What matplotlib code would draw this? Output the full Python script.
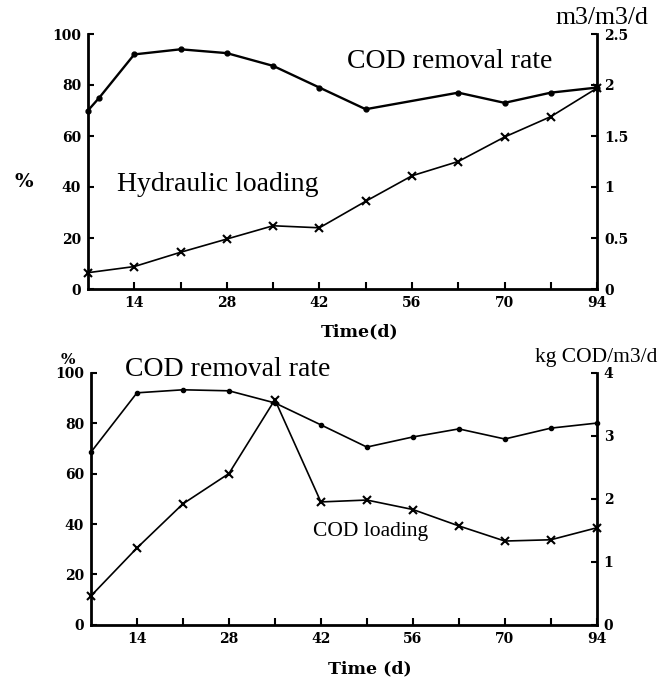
import matplotlib.pyplot as plt

# ---------------------------------------------------------------------------
# Data
# ---------------------------------------------------------------------------
tick_days = [14, 21, 28, 35, 42, 49, 56, 63, 70, 77, 84]
tick_labels = ["14", "", "28", "", "42", "", "56", "", "70", "", "94"]

# top panel: COD removal rate (%) and hydraulic loading (m3/m3/d)
top_cod_days = [7, 8.7, 14, 21, 28, 35, 42, 49, 63, 70, 77, 84]
top_cod_rate = [70, 75, 92, 94, 92.5, 87.5, 79, 70.5, 77, 73, 77, 79]

hyd_days = [7, 14, 21, 28, 35, 42, 49, 56, 63, 70, 77, 84]
hyd_loading = [0.16, 0.22, 0.36, 0.49, 0.62, 0.60, 0.86, 1.11, 1.25, 1.49, 1.69, 1.97]

# bottom panel: COD removal rate (%) and COD loading (kg COD/m3/d)
bot_days = [7, 14, 21, 28, 35, 42, 49, 56, 63, 70, 77, 84]
bot_cod_rate = [68.5, 92, 93.2, 92.8, 88, 79.3, 70.5, 74.5, 77.7, 73.7, 78, 80]
cod_loading = [0.46, 1.22, 1.92, 2.40, 3.57, 1.95, 1.98, 1.83, 1.57, 1.33, 1.35, 1.54]

SERIF = "Liberation Serif"
TICKFONT = "DejaVu Serif"


def style_axes(ax, ax2):
    for a in (ax, ax2):
        a.spines["top"].set_visible(False)
        for s in ("left", "bottom", "right"):
            a.spines[s].set_linewidth(2)
    ax.spines["right"].set_visible(False)
    ax2.spines["left"].set_visible(False)
    ax2.spines["bottom"].set_visible(False)
    ax.set_xlim(7, 84)
    ax.set_xticks(tick_days)
    ax.set_xticklabels(tick_labels)
    ax.tick_params(axis="x", direction="in", length=5, width=1.5, pad=5)
    ax.tick_params(axis="y", direction="in", length=4, width=1.5, pad=5)
    ax2.tick_params(axis="y", direction="in", length=4, width=1.5, pad=5)
    for lab in ax.get_xticklabels() + ax.get_yticklabels() + ax2.get_yticklabels():
        lab.set_fontfamily(TICKFONT)
        lab.set_fontweight("bold")
        lab.set_fontsize(10)


fig = plt.figure(figsize=(6.69, 6.80), dpi=100)

# ---------------------------------------------------------------------------
# Top panel
# ---------------------------------------------------------------------------
ax = fig.add_axes([0.1315, 0.575, 0.761, 0.375])
ax2 = ax.twinx()

ax.plot(top_cod_days, top_cod_rate, color="black", lw=1.7,
        marker="o", ms=3.5, clip_on=False)
ax2.plot(hyd_days, hyd_loading, color="black", lw=1.2,
         marker="x", ms=6, mew=1.5, clip_on=False)

ax.set_ylim(0, 100)
ax.set_yticks([0, 20, 40, 60, 80, 100])
ax2.set_ylim(0, 2.5)
ax2.set_yticks([0, 0.5, 1, 1.5, 2, 2.5])
ax2.set_yticklabels(["0", "0.5", "1", "1.5", "2", "2.5"])
style_axes(ax, ax2)

fig.text(0.537, 0.512, "Time(d)", fontfamily=TICKFONT, fontweight="bold",
         fontsize=12.5, ha="center", va="center")
fig.text(0.022, 0.732, "%", fontfamily=TICKFONT, fontweight="bold",
         fontsize=14, va="center")
fig.text(0.83, 0.973, "m3/m3/d", fontfamily=SERIF, fontsize=18.5,
         va="center")
fig.text(0.518, 0.909, "COD removal rate", fontfamily=SERIF, fontsize=20,
         va="center")
fig.text(0.175, 0.728, "Hydraulic loading", fontfamily=SERIF, fontsize=20,
         va="center")

# ---------------------------------------------------------------------------
# Bottom panel
# ---------------------------------------------------------------------------
bx = fig.add_axes([0.136, 0.081, 0.756, 0.371])
bx2 = bx.twinx()

bx.plot(bot_days, bot_cod_rate, color="black", lw=1.2,
        marker="o", ms=3, clip_on=False)
bx2.plot(bot_days, cod_loading, color="black", lw=1.2,
         marker="x", ms=6, mew=1.5, clip_on=False)

bx.set_ylim(0, 100)
bx.set_yticks([0, 20, 40, 60, 80, 100])
bx2.set_ylim(0, 4)
bx2.set_yticks([0, 1, 2, 3, 4])
style_axes(bx, bx2)

fig.text(0.553, 0.016, "Time (d)", fontfamily=TICKFONT, fontweight="bold",
         fontsize=12.5, ha="center", va="center")
fig.text(0.091, 0.471, "%", fontfamily=TICKFONT, fontweight="bold",
         fontsize=11, va="center")
fig.text(0.80, 0.474, "kg COD/m3/d", fontfamily=SERIF, fontsize=15.5,
         va="center")
fig.text(0.187, 0.456, "COD removal rate", fontfamily=SERIF, fontsize=20,
         va="center")
fig.text(0.468, 0.218, "COD loading", fontfamily=SERIF, fontsize=15.5,
         va="center")

fig.savefig("out.png", dpi=100)
